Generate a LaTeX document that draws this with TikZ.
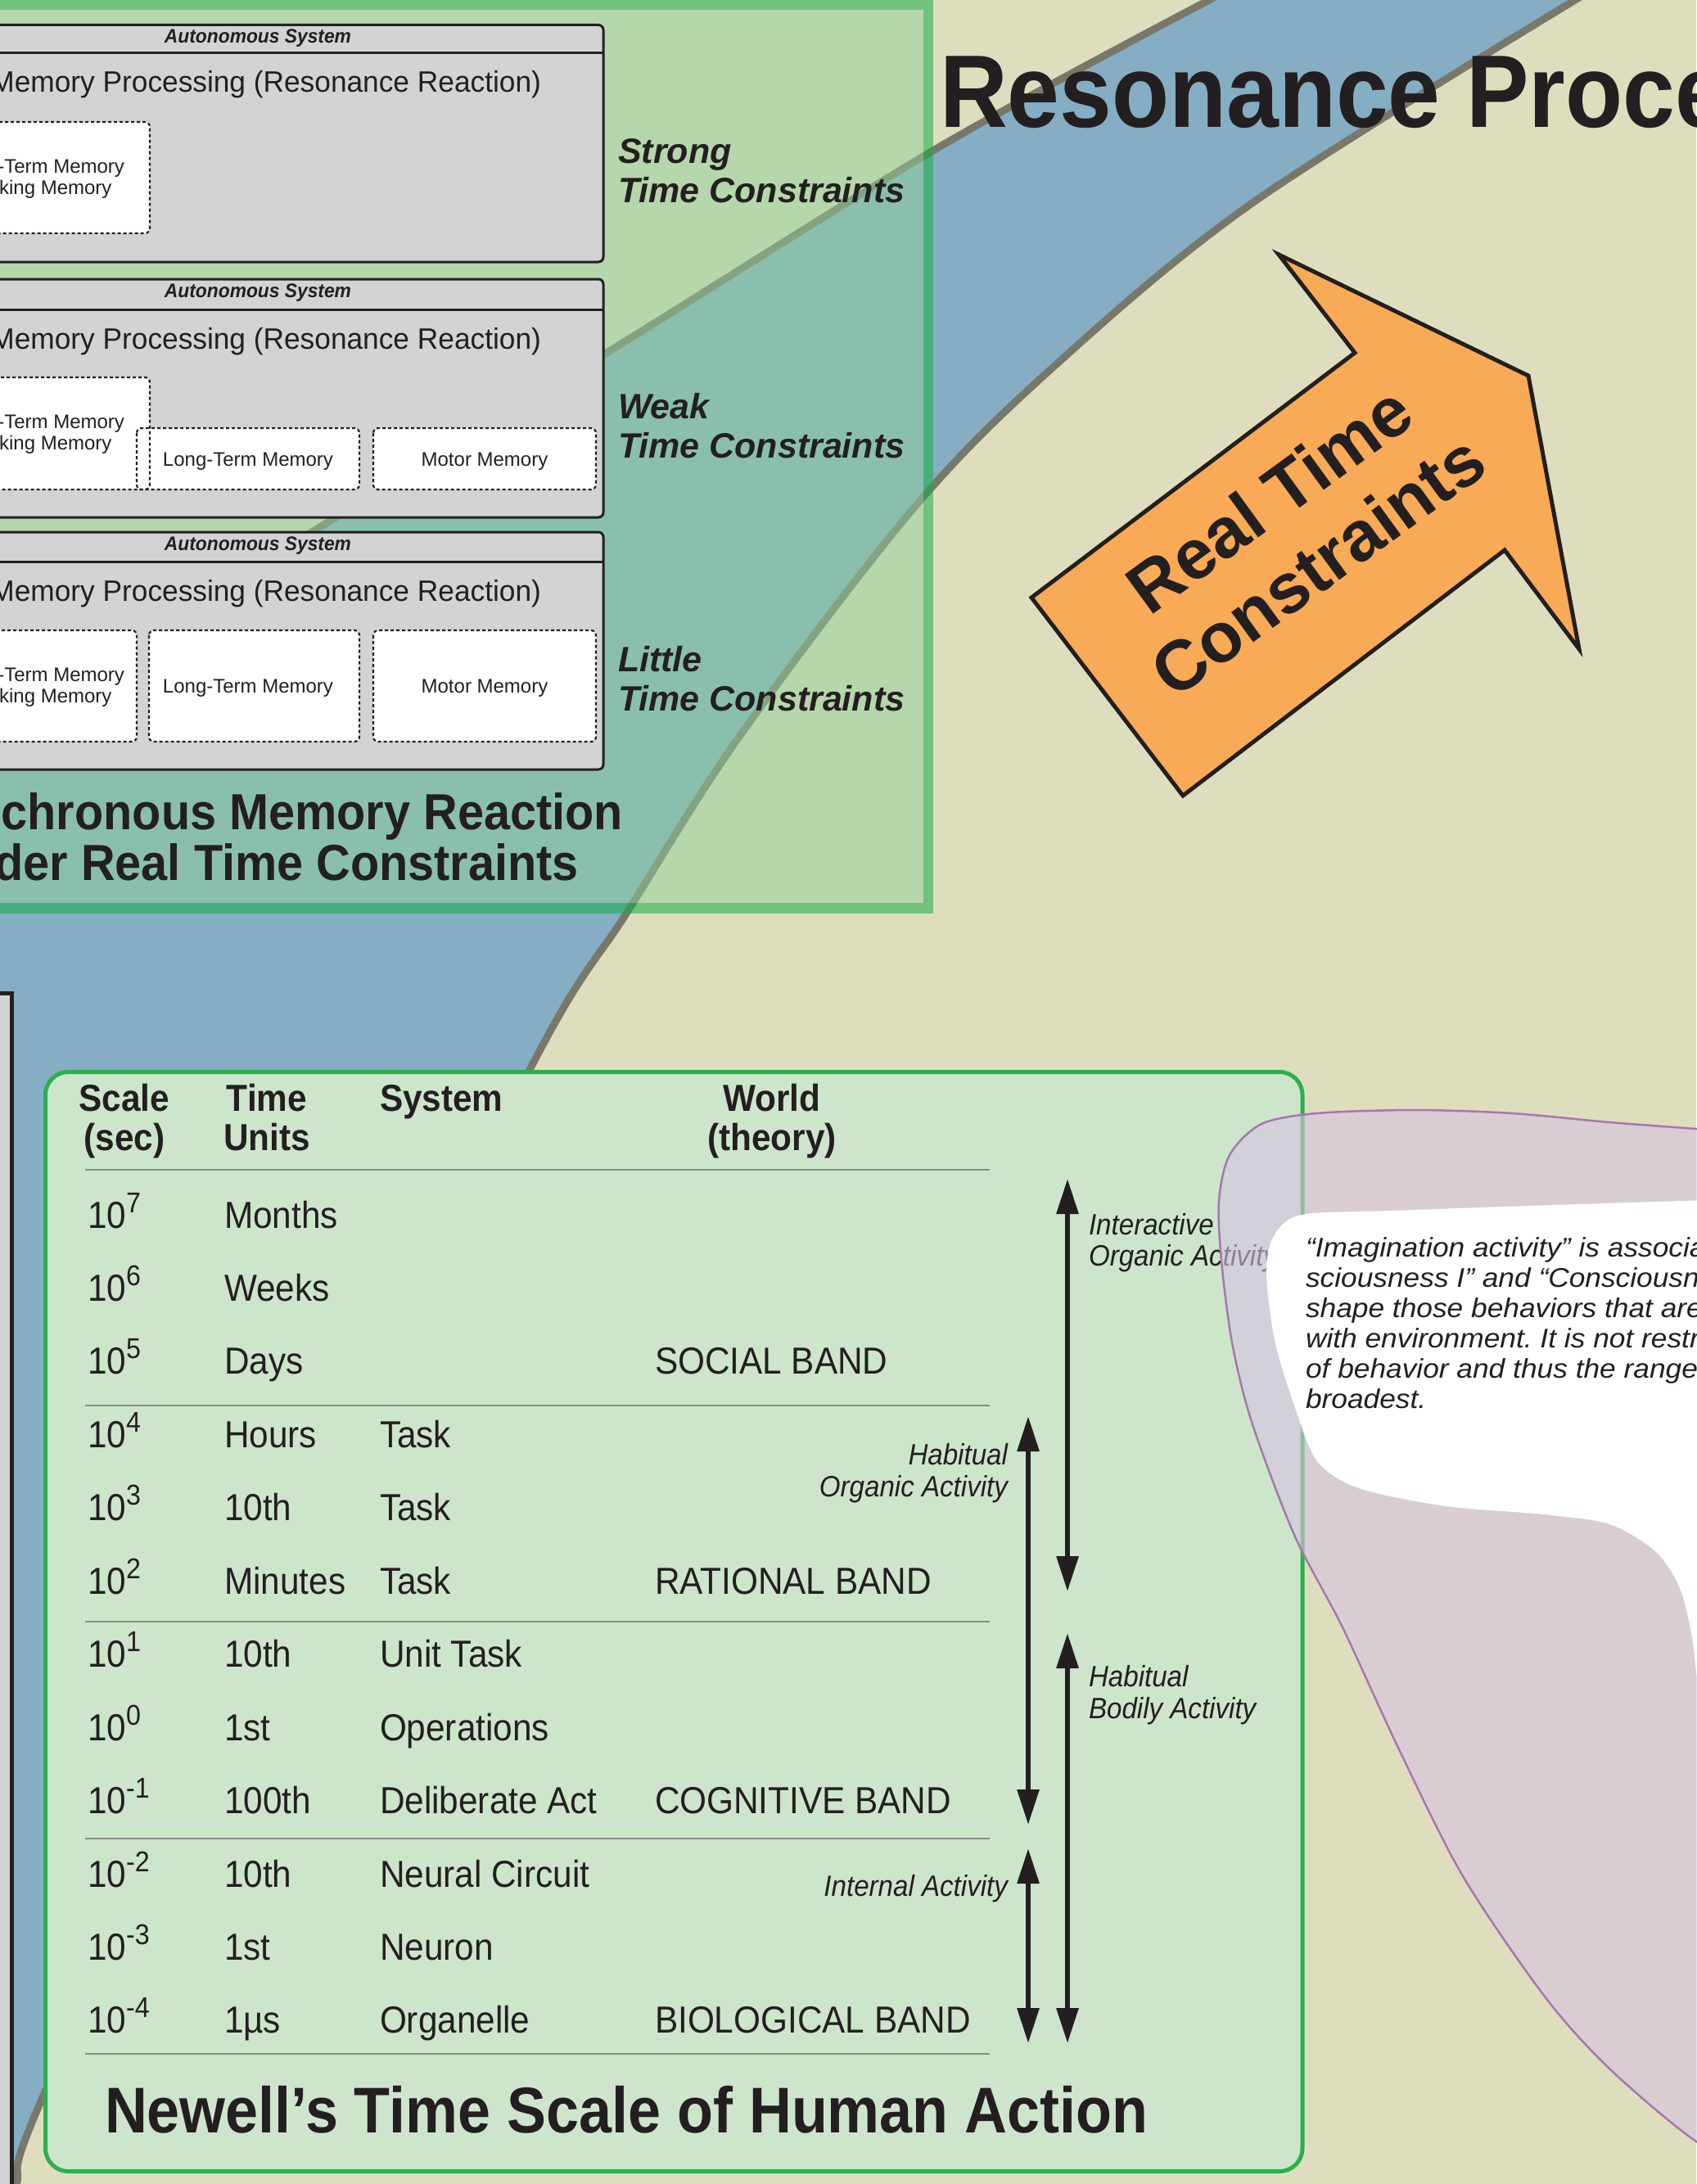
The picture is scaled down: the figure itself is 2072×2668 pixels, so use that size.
\documentclass[tikz,border=0pt]{standalone}
\usepackage{fontspec}
\setmainfont{Liberation Sans}
\newfontfamily\fA[FakeStretch=0.95]{Liberation Sans}
\newfontfamily\fB[FakeStretch=0.92]{Liberation Sans}
\newfontfamily\fC[FakeStretch=0.93]{Liberation Sans}
\newfontfamily\fD[FakeStretch=0.98]{Liberation Sans}
\newfontfamily\fT[FakeStretch=0.91]{Liberation Sans}
\newfontfamily\fW[FakeStretch=1.07]{Liberation Sans}
\usetikzlibrary{arrows.meta}
\definecolor{bgbeige}{RGB}{222,222,191}
\definecolor{bandblue}{RGB}{133,174,196}
\definecolor{bandline}{RGB}{120,120,106}
\definecolor{gfill}{RGB}{144,208,153}
\definecolor{gborder}{RGB}{24,174,70}
\definecolor{boxgray}{RGB}{209,211,212}
\definecolor{ink}{RGB}{35,31,32}
\definecolor{rtorange}{RGB}{249,170,86}
\definecolor{tfill}{RGB}{205,230,203}
\definecolor{tgreen}{RGB}{43,176,75}
\definecolor{rulegray}{RGB}{137,138,140}
\definecolor{purp}{RGB}{214,194,226}
\definecolor{purpline}{RGB}{166,120,174}
\newcommand\setsz[2]{\fontsize{#1}{#2}\selectfont}
\newcommand\tenpow[1]{10\raisebox{19pt}{\setsz{35}{35}#1}}
\frenchspacing
\begin{document}
\begin{tikzpicture}[x=1pt,y=-1pt,
  txt/.style={inner sep=0pt, outer sep=0pt, text=ink},
  graybox/.style={draw=ink, line width=3pt, fill=boxgray, rounded corners=6pt},
  memfill/.style={fill=white, rounded corners=6pt},
  membox/.style={draw=ink, line width=2.2pt, dash pattern=on 4pt off 3pt, rounded corners=6pt},
  bandedge/.style={draw=bandline, line width=9pt},
  rule/.style={draw=rulegray, line width=2.5pt},
  dblarrow/.style={line width=6pt, draw=ink, {Triangle[length=43pt,width=26pt]}-{Triangle[length=43pt,width=26pt]}},
  systitle/.style={txt, font=\fA\bfseries\itshape\setsz{24}{24}, anchor=base},
  proc/.style={txt, font=\fD\setsz{36}{36}, anchor=base east},
  memtxt/.style={txt, font=\setsz{24}{24}, anchor=base},
  constr/.style={txt, font=\bfseries\itshape\setsz{43}{43}, anchor=base west},
  cell/.style={txt, font=\fB\setsz{46}{46}, anchor=base west},
  head/.style={txt, font=\fB\bfseries\setsz{46}{46}, anchor=base},
  actlbl/.style={txt, font=\fB\itshape\setsz{36}{36}},
  note/.style={txt, font=\fW\itshape\setsz{33}{33}, anchor=base west}
]
\useasboundingbox (0,0) rectangle (2072,2668);
\fill[bgbeige] (0,0) rectangle (2072,2668);

% blue band with its two edges
\fill[bandblue] plot[smooth,tension=0.55] coordinates {(1500,-12) (1150,178) (741,431) (381,650) (0,885) (-60,922)}
  -- (-60,2720)
  -- plot[smooth,tension=0.55] coordinates {(0,2720) (20,2668) (53,2560) (340,1940) (647,1307) (767,1113) (903,900) (1115,622) (1286,449) (1534,245) (1944,-12)}
  -- cycle;
\draw[bandedge] plot[smooth,tension=0.55] coordinates {(1500,-12) (1150,178) (741,431) (381,650) (0,885) (-60,922)};
\draw[bandedge] plot[smooth,tension=0.55] coordinates {(0,2720) (20,2668) (53,2560) (340,1940) (647,1307) (767,1113) (903,900) (1115,622) (1286,449) (1534,245) (1944,-12)};

% gray panel at the left edge
\draw[draw=ink, line width=5pt, fill=boxgray] (-30,1213.5) rectangle (14.5,2700);

% translucent green panel
\fill[gfill, fill opacity=0.5] (-60,12.25) rectangle (1127.75,1103.25);
\draw[gborder, draw opacity=0.55, line width=12.5pt] (-60,6) rectangle (1134,1109.5);

% three autonomous-system boxes
\foreach \t/\h/\b/\k in {30.5/64.5/320/1, 341/378/632/2, 650/686/940/3}{
  \draw[graybox] (-40,\t) rectangle (737,\b);
  \draw[ink, line width=3pt] (-40,\h) -- (735.5,\h);
  \node[systitle] (auto\k) at (315,\t+22) {Autonomous System};
  \node[proc] (proc\k) at (661,\h+48.5) {Memory Processing (Resonance Reaction)};
}
% memory boxes: fills first, then dashed borders
\fill[memfill] (-79,149) rectangle (183,285);
\fill[memfill] (-79,461) rectangle (183,598);
\fill[memfill] (167,523) rectangle (439,598);
\fill[memfill] (456,523) rectangle (728,598);
\fill[memfill] (-79,770) rectangle (167,906);
\fill[memfill] (182,770) rectangle (439,906);
\fill[memfill] (456,770) rectangle (728,906);
\draw[membox] (-79,149) rectangle (183,285);
\draw[membox] (-79,461) rectangle (183,598);
\draw[membox] (167,523) rectangle (439,598);
\draw[membox] (456,523) rectangle (728,598);
\draw[membox] (-79,770) rectangle (167,906);
\draw[membox] (182,770) rectangle (439,906);
\draw[membox] (456,770) rectangle (728,906);

\foreach \c/\k in {217/1, 529.5/2, 838/3}{
  \node[memtxt] (stm\k) at (46,\c-6) {Short-Term Memory};
  \node[memtxt] (wm\k) at (46,\c+20) {Working Memory};
}
\node[memtxt] (ltm2) at (303,569) {Long-Term Memory};
\node[memtxt] (mot2) at (592,569) {Motor Memory};
\node[memtxt] (ltm3) at (303,846.5) {Long-Term Memory};
\node[memtxt] (mot3) at (592,846.5) {Motor Memory};

% constraint levels
\node[constr] (strong) at (755,199) {Strong};
\node[constr] (strongtc) at (755,247) {Time Constraints};
\node[constr] (weak) at (755,511) {Weak};
\node[constr] (weaktc) at (755,559) {Time Constraints};
\node[constr] (little) at (755,820) {Little};
\node[constr] (littletc) at (755,868) {Time Constraints};

\node[txt, font=\fC\bfseries\setsz{62}{62}, anchor=base east] (sync1) at (761,1013) {Synchronous Memory Reaction};
\node[txt, font=\fC\bfseries\setsz{62}{62}, anchor=base east] (sync2) at (707,1075) {Under Real Time Constraints};

% heading
\node[txt, font=\fT\bfseries\setsz{126}{126}, anchor=base west] (title) at (1148,155) {Resonance Process};

% real time arrow
\draw[ink, line width=5pt, fill=rtorange, miter limit=20] (1260,730) -- (1655,431) -- (1562,311) -- (1867,459) -- (1929,793) -- (1838,672) -- (1445,972) -- cycle;
\node[txt, font=\bfseries\setsz{86}{100}, align=center, rotate=36] (rtc) at (1580,650) {Real Time\\Constraints};

% Newell's table
\draw[line width=5pt, draw=tgreen, fill=tfill, rounded corners=28pt] (55.5,1309.5) rectangle (1591,2652.5);
\node[head] (hscale) at (152,1357) {Scale};
\node[head] (hsec) at (152,1405) {(sec)};
\node[head] (htime) at (326,1357) {Time};
\node[head] (hunits) at (326,1405) {Units};
\node[head, anchor=base west] (hsys) at (464,1357) {System};
\node[head] (hworld) at (943,1357) {World};
\node[head] (htheory) at (943,1405) {(theory)};
\foreach \y in {1429,1717,1981,2246,2509}{
  \draw[rule] (104,\y) -- (1209,\y);
}
\foreach \e/\u [count=\i] in {7/Months, 6/Weeks, 5/Days, 4/Hours, 3/10th, 2/Minutes,
  1/10th, 0/1st, -1/100th, -2/10th, -3/1st, -4/1µs}{
  \pgfmathsetmacro\yy{1500+89.45*(\i-1)}
  \node[cell] (exp\i) at (107,\yy) {\tenpow{\e}};
  \node[cell] (unit\i) at (274,\yy) {\u};
}
\foreach \s/\i in {Task/4, Task/5, Task/6, Unit Task/7, Operations/8, Deliberate Act/9,
  Neural Circuit/10, Neuron/11, Organelle/12}{
  \pgfmathsetmacro\yy{1500+89.45*(\i-1)}
  \node[cell] (syscol\i) at (464,\yy) {\s};
}
\foreach \w/\i in {SOCIAL BAND/3, RATIONAL BAND/6, COGNITIVE BAND/9, BIOLOGICAL BAND/12}{
  \pgfmathsetmacro\yy{1500+89.45*(\i-1)}
  \node[cell] (world\i) at (800,\yy) {\w};
}

% activity ranges
\coordinate (ioA) at (1304,1440); \coordinate (ioB) at (1304,1944);
\coordinate (hoA) at (1256,1730); \coordinate (hoB) at (1256,2229);
\coordinate (hbA) at (1304,1995); \coordinate (hbB) at (1304,2496);
\coordinate (inA) at (1256,2258); \coordinate (inB) at (1256,2496);
\draw[dblarrow] (ioA) -- (ioB);
\draw[dblarrow] (hoA) -- (hoB);
\draw[dblarrow] (hbA) -- (hbB);
\draw[dblarrow] (inA) -- (inB);
\node[actlbl, anchor=base west] (io1) at (1330,1508) {Interactive};
\node[actlbl, anchor=base west] (io2) at (1330,1546) {Organic Activity};
\node[actlbl, anchor=base east] (ho1) at (1231,1789) {Habitual};
\node[actlbl, anchor=base east] (ho2) at (1231,1828) {Organic Activity};
\node[actlbl, anchor=base west] (hb1) at (1330,2060) {Habitual};
\node[actlbl, anchor=base west] (hb2) at (1330,2099) {Bodily Activity};
\node[actlbl, anchor=base east] (int1) at (1231,2316) {Internal Activity};

\node[txt, font=\fT\bfseries\setsz{79}{79}, anchor=base west] (newell) at (128,2605) {Newell’s Time Scale of Human Action};

% translucent lilac region
\path[fill=purp, fill opacity=0.6, draw=purpline, line width=2.5pt]
  plot[smooth,tension=0.5] coordinates {(2150,1385) (2072,1379) (1966,1371) (1847,1360) (1728,1356) (1609,1360) (1541,1373) (1502,1411) (1489,1467) (1492,1540) (1505,1640) (1529,1737) (1581,1875) (1640,1988) (1708,2135) (1787,2292) (1887,2439) (1966,2527) (2072,2616) (2150,2650)}
  -- (2200,2700) -- (2200,1385) -- cycle;

% white note area
\fill[white] plot[smooth,tension=0.5] coordinates {(2150,1464) (1900,1472) (1700,1479) (1590,1484) (1556,1510) (1547,1555) (1557,1637) (1581,1717) (1609,1785) (1660,1818) (1767,1840) (1886,1850) (1966,1862) (2022,1895) (2052,1940) (2067,2000) (2075,2060) (2100,2150)}
  -- (2200,2150) -- (2200,1464) -- cycle;

\node[note] (n1) at (1595,1535) {“Imagination activity” is associated};
\node[note] (n2) at (1595,1572) {sciousness I” and “Consciousness};
\node[note] (n3) at (1595,1609) {shape those behaviors that are};
\node[note] (n4) at (1595,1646) {with environment. It is not restricted};
\node[note] (n5) at (1595,1683) {of behavior and thus the range};
\node[note] (n6) at (1595,1720) {broadest.};
\end{tikzpicture}
\end{document}
